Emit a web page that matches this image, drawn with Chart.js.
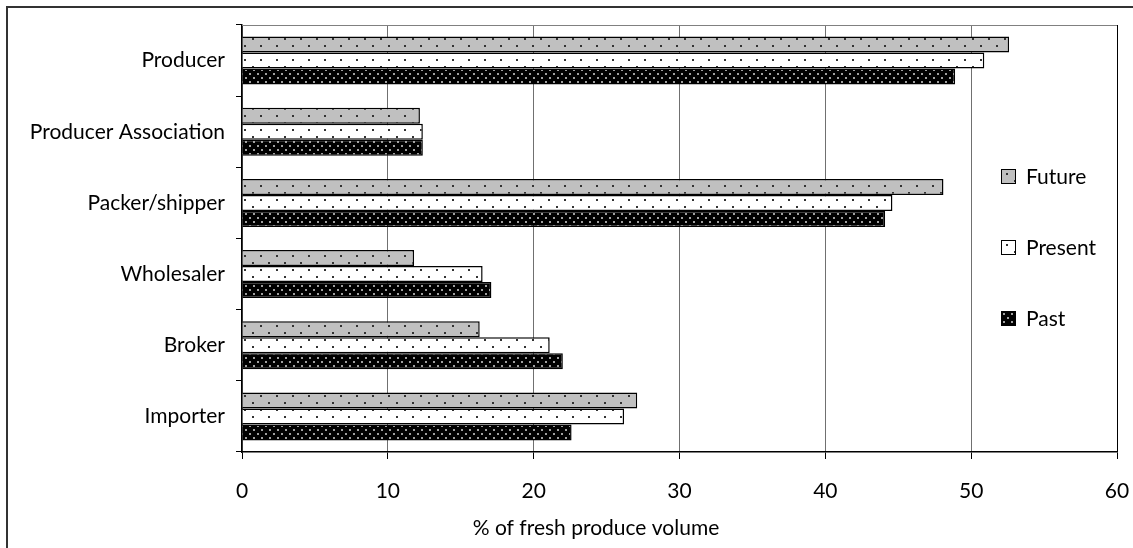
<!DOCTYPE html>
<html>
<head>
<meta charset="utf-8">
<script src="https://cdn.jsdelivr.net/npm/chart.js@4.4.1/dist/chart.umd.min.js"></script>
<style>
  html, body { margin: 0; padding: 0; background: #fff; }
  #wrap { position: relative; width: 1133px; height: 548px; overflow: hidden; }
  #frame { position: absolute; left: 6px; top: 6px; width: 1200px; height: 600px;
           border-left: 2px solid #333; border-top: 2px solid #333; pointer-events: none; }
  #chart { position: absolute; left: 0; top: 0; }
  #legend { position: absolute; left: 1001px; top: 163px; font-family: Lato, sans-serif; font-size: 21px; color: #000; }
  .item { height: 71px; display: flex; align-items: flex-start; line-height: 25px; }
  .swatch { width: 13px; height: 13px; border: 1px solid #000; margin-right: 10px; margin-top: 6px; }
</style>
</head>
<body>
<div id="wrap">
  <canvas id="chart" width="1133" height="548"></canvas>
  <div id="frame"></div>
  <div id="legend"></div>
</div>
<script>
const categories = ['Producer', 'Producer Association', 'Packer/shipper', 'Wholesaler', 'Broker', 'Importer'];
const seriesNames = ['Future', 'Present', 'Past'];
const futureValues = [52.6, 12.2, 48.1, 11.8, 16.3, 27.1];
const presentValues = [50.9, 12.4, 44.6, 16.5, 21.1, 26.2];
const pastValues = [48.9, 12.4, 44.1, 17.1, 22.0, 22.6];
const xTicks = [0, 10, 20, 30, 40, 50, 60];
const xTitle = '% of fresh produce volume';

const FONT = 'Lato, sans-serif';
const FSIZE = 21;

function dotPattern(w, h, bg, dot, dots, size) {
  const c = document.createElement('canvas');
  c.width = w; c.height = h;
  const g = c.getContext('2d');
  g.fillStyle = bg;
  g.fillRect(0, 0, w, h);
  g.fillStyle = dot;
  dots.forEach(([x, y]) => g.fillRect(x, y, size, size));
  return c;
}

const tiles = [
  dotPattern(16, 14, '#c0c0c0', '#333333', [[4, 3], [12, 10]], 2),
  dotPattern(16, 14, '#ffffff', '#333333', [[4, 3], [12, 10]], 2),
  dotPattern(8, 8, '#000000', '#a0a0a0', [[1, 1], [5, 5]], 2)
];

document.addEventListener('DOMContentLoaded', () => {
  const canvas = document.getElementById('chart');
  const ctx = canvas.getContext('2d');
  const fills = tiles.map(t => ctx.createPattern(t, 'repeat'));
  const allValues = [futureValues, presentValues, pastValues];

  const frameLines = {
    id: 'frameLines',
    afterDatasetsDraw(chart) {
      const a = chart.chartArea;
      const c = chart.ctx;
      c.save();
      c.strokeStyle = '#808080';
      c.lineWidth = 1;
      c.beginPath();
      c.moveTo(a.left, a.top + 0.5);
      c.lineTo(a.right, a.top + 0.5);
      c.stroke();
      c.fillStyle = '#000';
      c.font = FSIZE + 'px ' + FONT;
      c.textAlign = 'center';
      c.textBaseline = 'middle';
      c.fillText(xTitle, 596, 528);
      c.restore();
    }
  };

  new Chart(canvas, {
    type: 'bar',
    data: {
      labels: categories,
      datasets: seriesNames.map((name, i) => ({
        label: name,
        data: allValues[i],
        backgroundColor: fills[i],
        borderColor: '#000',
        borderWidth: 1.5,
        categoryPercentage: 0.675,
        barPercentage: 1.0
      }))
    },
    options: {
      indexAxis: 'y',
      responsive: false,
      animation: false,
      layout: { padding: { left: 0, top: 25, right: 16, bottom: 0 } },
      plugins: {
        legend: { display: false },
        tooltip: { enabled: false }
      },
      scales: {
        x: {
          min: 0,
          max: 60,
          afterBuildTicks: scale => { scale.ticks = xTicks.map(v => ({ value: v })); },
          afterFit: scale => { scale.height = 96; scale.paddingRight = 0; scale.paddingLeft = 0; },
          grid: {
            color: ctx => (ctx.tick && ctx.tick.value === 60 ? '#000' : '#707070'),
            tickColor: '#000',
            tickLength: 7,
            lineWidth: 1
          },
          border: { display: true, color: '#000', width: 1.5 },
          ticks: { color: '#000', font: { family: FONT, size: FSIZE }, padding: 20 }
        },
        y: {
          afterFit: scale => { scale.width = 242; },
          grid: {
            offset: true,
            drawOnChartArea: false,
            tickColor: '#000',
            tickLength: 6
          },
          border: { display: true, color: '#000', width: 1.5 },
          ticks: { color: '#000', font: { family: FONT, size: FSIZE }, padding: 11 }
        }
      }
    },
    plugins: [frameLines]
  });

  const legend = document.getElementById('legend');
  seriesNames.forEach((name, i) => {
    const item = document.createElement('div');
    item.className = 'item';
    const sw = document.createElement('div');
    sw.className = 'swatch';
    sw.style.backgroundImage = 'url(' + tiles[i].toDataURL() + ')';
    const label = document.createElement('span');
    label.textContent = name;
    item.appendChild(sw);
    item.appendChild(label);
    legend.appendChild(item);
  });
});
</script>
</body>
</html>
